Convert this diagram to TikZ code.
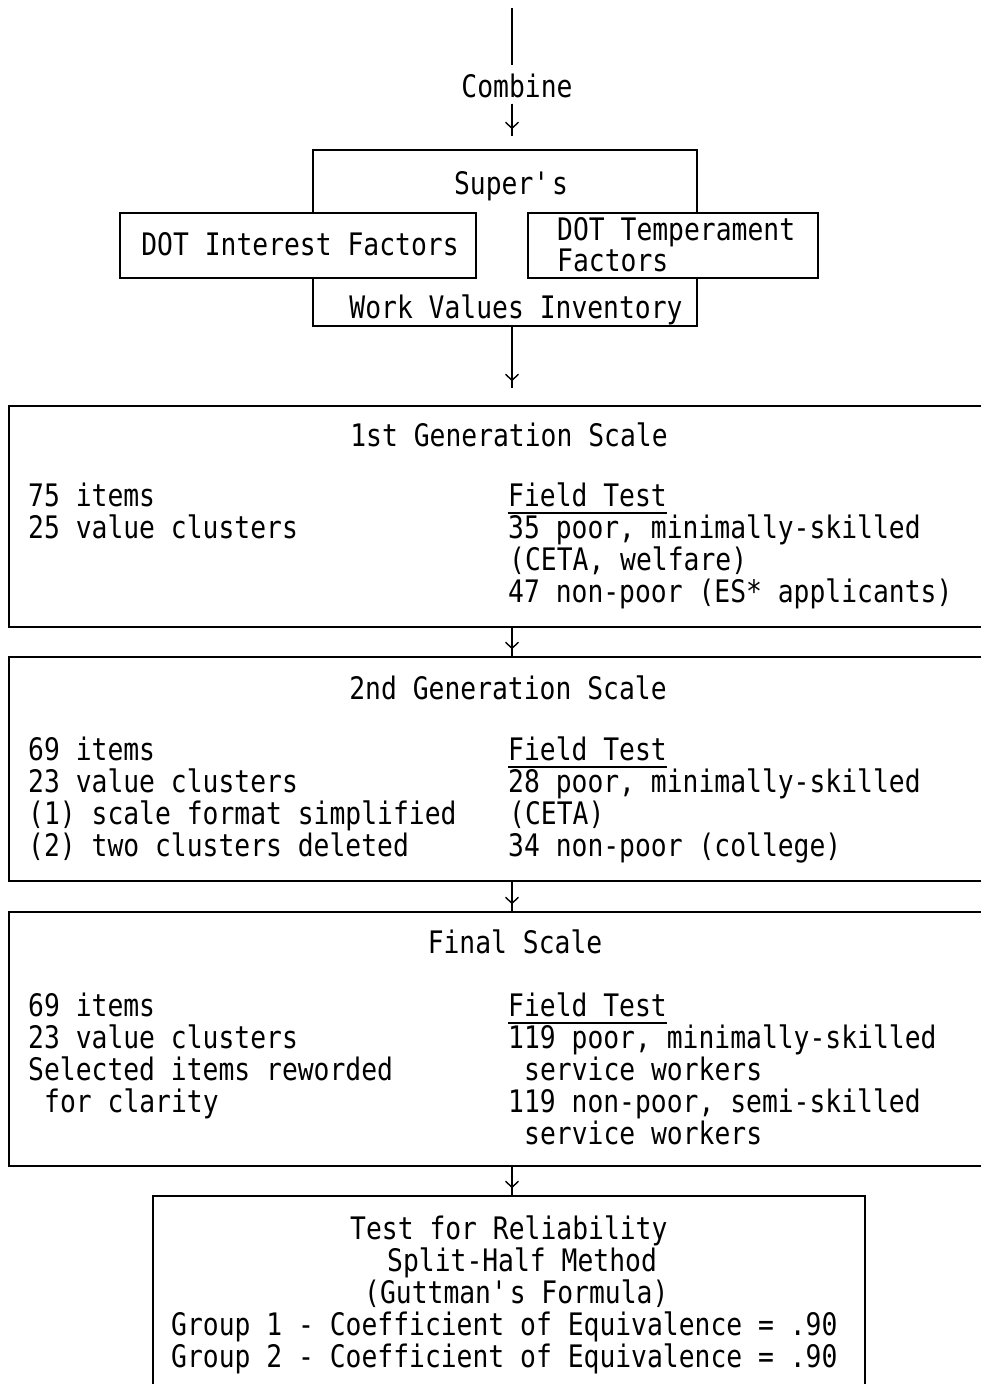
\documentclass[tikz,border=0pt]{standalone}
\usepackage{fontspec}
\setmainfont{DejaVu Sans Mono}[FakeStretch=0.85]
\usetikzlibrary{arrows.meta,calc}

\tikzset{
  box/.style={draw, line width=1.6pt, fill=white, inner sep=0pt},
  txt/.style={inner sep=0pt, anchor=base west},
  ctr/.style={inner sep=0pt, anchor=base},
  flow/.style={line width=1.4pt,
    postaction={draw, shorten >=7pt, -{Straight Barb[length=6pt,width=13pt]}}},
  uline/.style={line width=1.2pt},
}

\begin{document}
\begin{tikzpicture}[x=1pt,y=-1pt,font=\fontsize{31}{32}\selectfont]
	\useasboundingbox (0,0) rectangle (981,1384);
	\clip (0,0) rectangle (981,1384);
	\coordinate (axis) at (512,8);

	% boxes
	\node[box, minimum width=384pt, minimum height=176pt] (supers) at (505,238) {};
	\node[box, minimum width=356pt, minimum height=65pt] (interest) at (298,245.5) {};
	\node[box, minimum width=290pt, minimum height=65pt] (temper) at (673,245.5) {};
	\node[box, minimum width=991pt, minimum height=221pt] (gen1) at (504.5,516.5) {};
	\node[box, minimum width=991pt, minimum height=224pt] (gen2) at (504.5,769) {};
	\node[box, minimum width=991pt, minimum height=254pt] (gen3) at (504.5,1039) {};
	\node[box, minimum width=712pt, minimum height=224pt] (rel) at (509,1308) {};

	% sources
	\node[ctr] (combine) at (517,97) {Combine};
	\node[ctr] (superst) at (511,194) {Super\textquotesingle s};
	\node[ctr] (interestt) at (300,255) {DOT Interest Factors};
	\node[txt] (tempta) at (557,240) {DOT Temperament};
	\node[txt] (temptb) at (557,271) {Factors};
	\node[ctr] (wvi) at (516,318) {Work Values Inventory};

	% 1st generation
	\node[ctr] (gena) at (509,446) {1st Generation Scale};
	\node[txt] (gena1) at (28,506) {75 items};
	\node[txt] (gena2) at (28,538) {25 value clusters};
	\node[txt] (fta) at (508,506) {Field Test};
	\node[txt] (fta1) at (508,538) {35 poor, minimally-skilled};
	\node[txt] (fta2) at (509,570) {(CETA, welfare)};
	\node[txt] (fta3) at (508,602) {47 non-poor (ES* applicants)};

	% 2nd generation
	\node[ctr] (genb) at (508,699) {2nd Generation Scale};
	\node[txt] (genb1) at (28,760) {69 items};
	\node[txt] (genb2) at (28,792) {23 value clusters};
	\node[txt] (genb3) at (28,824) {(1) scale format simplified};
	\node[txt] (genb4) at (28,856) {(2) two clusters deleted};
	\node[txt] (ftb) at (508,760) {Field Test};
	\node[txt] (ftb1) at (508,792) {28 poor, minimally-skilled};
	\node[txt] (ftb2) at (509,824) {(CETA)};
	\node[txt] (ftb3) at (508,856) {34 non-poor (college)};

	% final
	\node[ctr] (genc) at (515,953) {Final Scale};
	\node[txt] (genc1) at (28,1016) {69 items};
	\node[txt] (genc2) at (28,1048) {23 value clusters};
	\node[txt] (genc3) at (28,1080) {Selected items reworded};
	\node[txt] (genc4) at (44,1112) {for clarity};
	\node[txt] (ftc) at (508,1016) {Field Test};
	\node[txt] (ftc1) at (508,1048) {119 poor, minimally-skilled};
	\node[txt] (ftc2) at (524,1080) {service workers};
	\node[txt] (ftc3) at (508,1112) {119 non-poor, semi-skilled};
	\node[txt] (ftc4) at (524,1144) {service workers};

	% reliability
	\node[txt] (rel1) at (350,1239) {Test for Reliability};
	\node[txt] (rel2) at (387,1271) {Split-Half Method};
	\node[txt] (rel3) at (364,1303) {(Guttman\textquotesingle s Formula)};
	\node[txt] (rel4) at (171,1335) {Group 1 - Coefficient of Equivalence = .90};
	\node[txt] (rel5) at (171,1367) {Group 2 - Coefficient of Equivalence = .90};

	% underlines
	\foreach \n in {fta,ftb,ftc}
		\draw[uline] ([yshift=-7pt]\n.base west) -- ([yshift=-7pt]\n.base east);

	% connectors
	\draw[line width=1.4pt, shorten >=8pt] (axis) -- (combine.north -| axis);
	\draw[flow] ($(combine.south -| axis)+(0,6)$) -- ($(supers.north -| axis)+(0,-13)$);
	\draw[flow] (supers.south -| axis) -- ($(gen1.north -| axis)+(0,-17)$);
	\draw[flow] (gen1.south -| axis) -- (gen2.north -| axis);
	\draw[flow] (gen2.south -| axis) -- (gen3.north -| axis);
	\draw[flow] (gen3.south -| axis) -- (rel.north -| axis);
\end{tikzpicture}
\end{document}
